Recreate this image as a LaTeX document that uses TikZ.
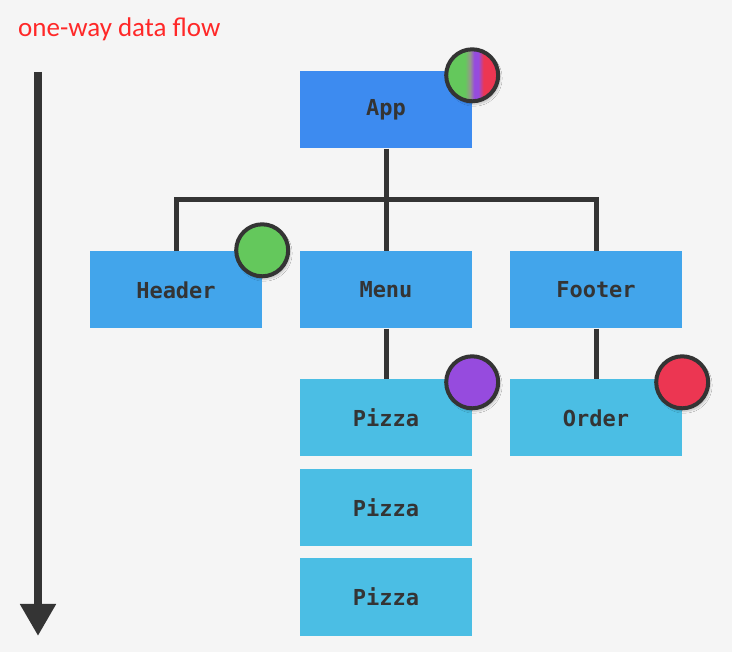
\documentclass[tikz,border=0pt]{standalone}
\usepackage{fontspec}
\setmainfont{Carlito}
\setmonofont{DejaVu Sans Mono}
\usetikzlibrary{positioning}
\usetikzlibrary{arrows.meta}
\usetikzlibrary{shadows.blur}
\definecolor{bgray}{RGB}{245,245,245}
\definecolor{ink}{RGB}{52,52,52}
\definecolor{appblue}{RGB}{61,139,240}
\definecolor{midblue}{RGB}{66,165,235}
\definecolor{lowblue}{RGB}{75,190,228}
\definecolor{ballgreen}{RGB}{100,200,92}
\definecolor{ballpurple}{RGB}{150,75,222}
\definecolor{ballred}{RGB}{236,54,82}
\definecolor{ballgray}{RGB}{150,150,140}
\definecolor{flowred}{RGB}{255,40,40}
\pgfdeclarehorizontalshading{appball}{100bp}{color(0bp)=(ballgreen); color(43bp)=(ballgreen); color(48bp)=(ballgray); color(52bp)=(ballpurple); color(56bp)=(ballpurple); color(61bp)=(ballred); color(100bp)=(ballred)}
\tikzset{
    Comp/.style = {rectangle, minimum width=172pt, minimum height=77pt, inner sep=0pt,
                   font=\ttfamily\bfseries\fontsize{22}{26}\selectfont, text=ink}
}
\tikzset{
    Link/.style = {draw=ink, line width=5pt}
}
\tikzset{
    Ball/.style = {circle, draw=ink, line width=4pt, minimum size=52pt, inner sep=0pt,
                   blur shadow={shadow xshift=2pt, shadow yshift=-3pt, shadow blur steps=8, shadow opacity=22}}
}

\begin{document}
\begin{tikzpicture}[x=1pt, y=-1pt]
\fill[bgray] (0,0) rectangle (732,652);
\useasboundingbox (0,0) rectangle (732,652);

% title and flow arrow
\node[anchor=base west, inner sep=0pt, text=flowred, font=\fontsize{27}{32}\selectfont] (flow) at (18,37) {one-way data flow};
\coordinate (top) at (38,72);
\coordinate (bottom) at (38,636);
\draw[ink, line width=8pt, -{Triangle[width=34pt,length=32pt]}] (top) -- (bottom);

% components
\node[Comp, fill=appblue] at (386,110) (app) {App};
\node[Comp, fill=midblue] at (176,290) (header) {Header};
\node[Comp, fill=midblue] at (386,290) (menu) {Menu};
\node[Comp, fill=midblue] at (596,290) (footer) {Footer};
\node[Comp, fill=lowblue] at (386,418) (pizzaA) {Pizza};
\node[Comp, fill=lowblue] at (596,418) (order) {Order};
\node[Comp, fill=lowblue] at (386,508) (pizzaB) {Pizza};
\node[Comp, fill=lowblue] at (386,597) (pizzaC) {Pizza};

% tree
\coordinate (bar) at (386,200);
\path[Link] (app.south) -- (menu.north);
\path[Link] (header.north) |- (bar) -| (footer.north);
\path[Link] (menu.south) -- (pizzaA.north);
\path[Link] (footer.south) -- (order.north);

% state
\node[Ball, shading=appball] at ([yshift=-4pt]app.north east) (appball) {};
\node[Ball, fill=ballgreen] at ([yshift=1pt]header.north east) (hball) {};
\node[Ball, fill=ballpurple] at ([yshift=-3pt]pizzaA.north east) (pball) {};
\node[Ball, fill=ballred] at ([yshift=-3pt]order.north east) (oball) {};
\end{tikzpicture}
\end{document}
